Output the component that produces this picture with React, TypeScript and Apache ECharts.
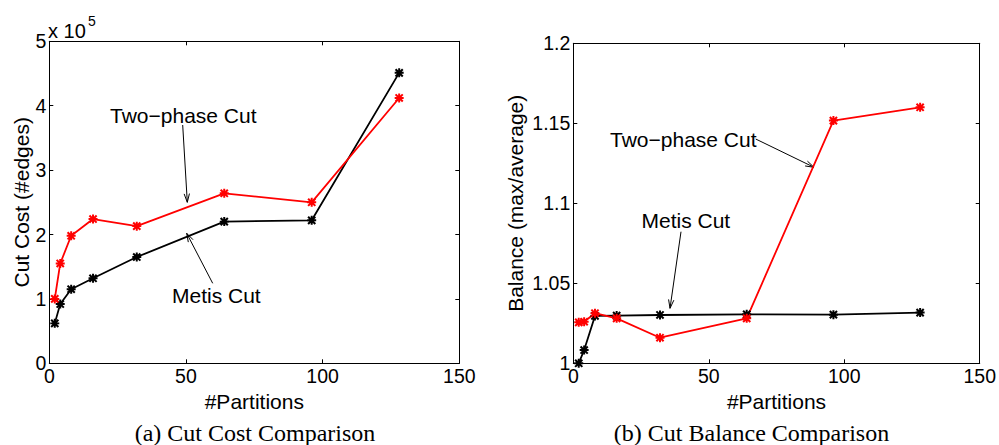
import React, { useEffect, useRef } from "react";
import * as echarts from "echarts";

const partitions = [2, 4, 8, 16, 32, 64, 96, 128];
const metisCost = [62000, 92000, 115000, 132000, 165000, 220000, 222000, 451000];
const twoPhaseCost = [100000, 155000, 198000, 224000, 213000, 264000, 250000, 412000];
const metisBalance = [1.0, 1.0083, 1.0296, 1.0298, 1.0302, 1.0306, 1.0304, 1.0317];
const twoPhaseBalance = [1.0256, 1.026, 1.0313, 1.0281, 1.016, 1.0281, 1.1517, 1.16];

const xTicks = { min: 0, max: 150, interval: 50 };
const costTicks = { min: 0, max: 500000, interval: 100000 };
const balanceTicks = { min: 1, max: 1.2, interval: 0.05 };

const SANS = '"Liberation Sans", Arial, Helvetica, sans-serif';
const SERIF = '"Liberation Serif", "Times New Roman", serif';

const STAR =
  "path://M3.9 0 H6.1 V10 H3.9 Z M0 3.9 H10 V6.1 H0 Z M0.2 1.8 L1.8 0.2 L9.8 8.2 L8.2 9.8 Z M8.2 0.2 L9.8 1.8 L1.8 9.8 L0.2 8.2 Z";

function arrow(x1: number, y1: number, x2: number, y2: number) {
  const ang = Math.atan2(y2 - y1, x2 - x1);
  const len = 9;
  const spread = 0.3;
  const a1 = ang + Math.PI - spread;
  const a2 = ang + Math.PI + spread;
  const ls = { stroke: "#000", lineWidth: 1 };
  return [
    { type: "line", shape: { x1, y1, x2, y2 }, style: ls },
    { type: "line", shape: { x1: x2, y1: y2, x2: x2 + len * Math.cos(a1), y2: y2 + len * Math.sin(a1) }, style: ls },
    { type: "line", shape: { x1: x2, y1: y2, x2: x2 + len * Math.cos(a2), y2: y2 + len * Math.sin(a2) }, style: ls },
  ];
}

function label(text: string, x: number, y: number, size = 21) {
  return {
    type: "text",
    x,
    y,
    style: { text, fill: "#000", font: `${size}px ${SANS}`, verticalAlign: "middle", align: "left" },
  };
}

export default function App() {
  const ref = useRef<HTMLDivElement>(null);
  useEffect(() => {
    if (!ref.current) return;
    const chart = echarts.init(ref.current, undefined, { renderer: "svg" });
    const axisLine = { show: true, onZero: false, lineStyle: { color: "#000", width: 1 } };
    const tick = { show: true, inside: true, length: 4, lineStyle: { color: "#000", width: 1 } };
    const lbl = { color: "#000", fontSize: 19.5, fontFamily: SANS, margin: 3, showMinLabel: true, showMaxLabel: true };
    const nameStyle = { color: "#000", fontSize: 21, fontFamily: SANS };
    const fmtBal = (v: number) => String(Number(v.toFixed(2)));

    const mainX = (gi: number) => ({
      type: "value",
      gridIndex: gi,
      position: "bottom",
      ...xTicks,
      name: "#Partitions",
      nameLocation: "middle",
      nameGap: 18,
      nameTextStyle: nameStyle,
      axisLine,
      axisTick: tick,
      axisLabel: lbl,
      splitLine: { show: false },
    });
    const mirrorX = (gi: number) => ({
      type: "value",
      gridIndex: gi,
      position: "top",
      ...xTicks,
      axisLine,
      axisTick: tick,
      axisLabel: { show: false },
      splitLine: { show: false },
    });
    const mirrorY = (gi: number, t: any) => ({
      type: "value",
      gridIndex: gi,
      position: "right",
      ...t,
      axisLine,
      axisTick: tick,
      axisLabel: { show: false },
      splitLine: { show: false },
    });

    const seriesStyle = (color: string) => ({
      type: "line",
      symbol: STAR,
      symbolSize: 9,
      lineStyle: { color, width: 1.8 },
      itemStyle: { color },
      emphasis: { disabled: true },
    });

    chart.setOption({
      animation: false,
      grid: [
        { left: 49.3, top: 41.3, width: 410, height: 322 },
        { left: 573.3, top: 43.3, width: 407, height: 320 },
      ],
      xAxis: [mainX(0), mainX(1), mirrorX(0), mirrorX(1)],
      yAxis: [
        {
          type: "value",
          gridIndex: 0,
          position: "left",
          ...costTicks,
          name: "Cut Cost (#edges)",
          nameLocation: "middle",
          nameGap: 17,
          nameTextStyle: nameStyle,
          axisLine,
          axisTick: tick,
          axisLabel: { ...lbl, formatter: (v: number) => String(Math.round(v / 100000)) },
          splitLine: { show: false },
        },
        {
          type: "value",
          gridIndex: 1,
          position: "left",
          ...balanceTicks,
          name: "Balance (max/average)",
          nameLocation: "middle",
          nameGap: 47,
          nameTextStyle: nameStyle,
          axisLine,
          axisTick: tick,
          axisLabel: { ...lbl, formatter: fmtBal },
          splitLine: { show: false },
        },
        mirrorY(0, costTicks),
        mirrorY(1, balanceTicks),
      ],
      series: [
        { ...seriesStyle("#000"), name: "Metis Cut", xAxisIndex: 0, yAxisIndex: 0, data: partitions.map((p, i) => [p, metisCost[i]]) },
        { ...seriesStyle("#ff0000"), name: "Two-phase Cut", xAxisIndex: 0, yAxisIndex: 0, data: partitions.map((p, i) => [p, twoPhaseCost[i]]) },
        { ...seriesStyle("#000"), name: "Metis Cut", xAxisIndex: 1, yAxisIndex: 1, data: partitions.map((p, i) => [p, metisBalance[i]]) },
        { ...seriesStyle("#ff0000"), name: "Two-phase Cut", xAxisIndex: 1, yAxisIndex: 1, data: partitions.map((p, i) => [p, twoPhaseBalance[i]]) },
      ],
      graphic: [
        label("x 10", 48, 31, 20),
        label("5", 88, 21, 14),
        label("Two\u2212phase Cut", 110, 115),
        ...arrow(182.7, 125, 187.3, 202.3),
        label("Metis Cut", 172, 295),
        ...arrow(212.7, 283.3, 186.7, 233.3),
        label("Two\u2212phase Cut", 610, 139),
        ...arrow(755.7, 139, 814, 167.3),
        label("Metis Cut", 641.5, 220),
        ...arrow(681, 231.7, 670, 308.3),
        {
          type: "text",
          x: 255,
          y: 433,
          style: { text: "(a) Cut Cost Comparison", fill: "#000", font: `24px ${SERIF}`, align: "center", verticalAlign: "middle" },
        },
        {
          type: "text",
          x: 751.5,
          y: 433,
          style: { text: "(b) Cut Balance Comparison", fill: "#000", font: `24px ${SERIF}`, align: "center", verticalAlign: "middle" },
        },
      ],
    });
    return () => chart.dispose();
  }, []);
  return (
    <div
      ref={ref}
      style={{ position: "fixed", left: 0, top: 0, width: 999, height: 445, background: "#fff" }}
    />
  );
}
